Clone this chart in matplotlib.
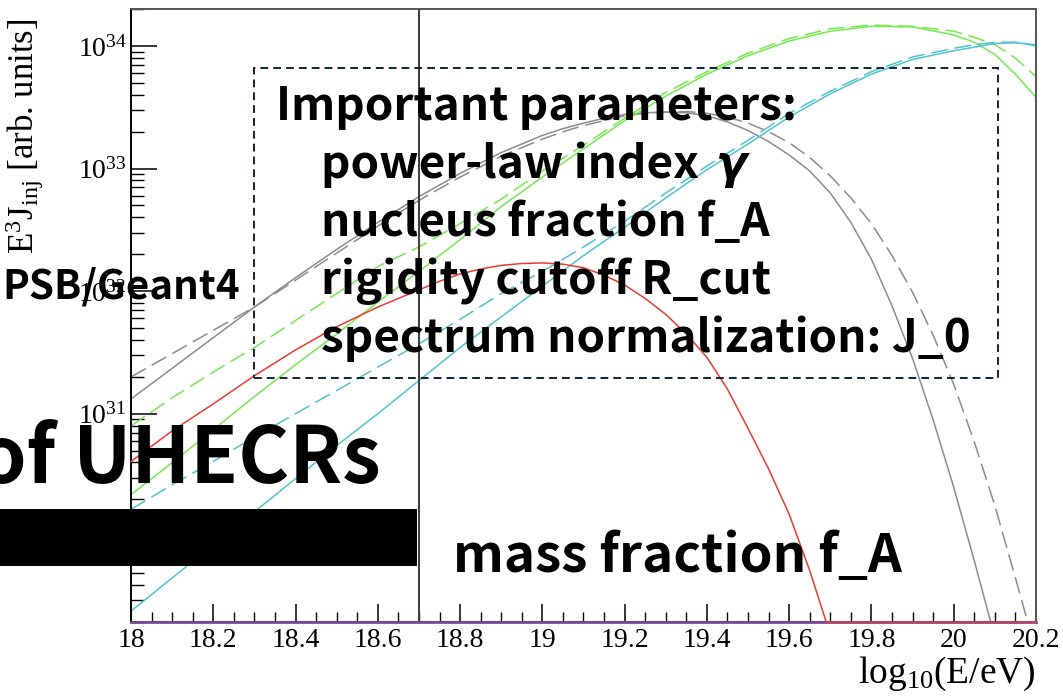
import numpy as np
import matplotlib
matplotlib.use('Agg')
import matplotlib.pyplot as plt
from matplotlib.ticker import LogLocator, NullFormatter, MultipleLocator, FuncFormatter
from matplotlib.patches import Rectangle

plt.rcParams['font.family'] = ['Liberation Serif']
plt.rcParams['mathtext.fontset'] = 'custom'
plt.rcParams['mathtext.rm'] = 'Liberation Serif'
plt.rcParams['mathtext.it'] = 'Liberation Serif:italic'
plt.rcParams['mathtext.default'] = 'regular'

W, H = 1063, 698

# ---------------- data (log10 of E^3 J_inj, arb. units) ----------------
gray_solid_x = [18.0, 18.1, 18.2, 18.3, 18.4, 18.5, 18.6, 18.7, 18.8, 18.9, 19.0, 19.05, 19.1, 19.15,
                19.2, 19.25, 19.3, 19.35, 19.4, 19.45, 19.5, 19.55, 19.6, 19.65, 19.7, 19.75, 19.8,
                19.85, 19.9, 19.95, 20.0, 20.05, 20.09]
gray_solid_log = [31.12, 31.37, 31.62, 31.87, 32.11, 32.34, 32.56, 32.77, 32.96, 33.13, 33.27, 33.325, 33.37,
                  33.41, 33.44, 33.455, 33.46, 33.455, 33.43, 33.38, 33.31, 33.22, 33.11, 32.98, 32.80,
                  32.56, 32.26, 31.88, 31.45, 30.95, 30.40, 29.80, 29.30]

gray_dashed_x = [18.0, 18.1, 18.2, 18.3, 18.4, 18.5, 18.6, 18.7, 18.8, 18.9, 19.0, 19.05, 19.1, 19.15,
                 19.2, 19.25, 19.3, 19.35, 19.4, 19.45, 19.5, 19.55, 19.6, 19.65, 19.7, 19.75, 19.8,
                 19.85, 19.9, 19.95, 20.0, 20.05, 20.1, 20.15, 20.18]
gray_dashed_log = [31.30, 31.49, 31.68, 31.87, 32.09, 32.31, 32.53, 32.74, 32.93, 33.10, 33.24, 33.30, 33.35,
                   33.39, 33.43, 33.45, 33.46, 33.465, 33.45, 33.42, 33.37, 33.30, 33.21, 33.09, 32.94,
                   32.76, 32.55, 32.29, 31.99, 31.64, 31.24, 30.77, 30.25, 29.66, 29.30]

green_x = [18.0, 18.1, 18.2, 18.3, 18.4, 18.5, 18.6, 18.7, 18.8, 18.9, 19.0, 19.1, 19.2, 19.3,
           19.4, 19.5, 19.6, 19.7, 19.8, 19.9, 20.0, 20.05, 20.1, 20.15, 20.2]
green_solid_log = [30.34, 30.60, 30.87, 31.14, 31.40, 31.65, 31.91, 32.16, 32.42, 32.69, 32.93, 33.16,
                   33.39, 33.59, 33.77, 33.92, 34.04, 34.12, 34.16, 34.155, 34.09, 34.03, 33.93, 33.77, 33.58]
green_dashed_log = [30.90, 31.13, 31.34, 31.54, 31.76, 31.98, 32.20, 32.36, 32.55, 32.75, 32.98, 33.19,
                    33.41, 33.62, 33.79, 33.94, 34.06, 34.14, 34.17, 34.16, 34.12, 34.07, 34.01, 33.90, 33.75]

cyan_x = [18.0, 18.1, 18.2, 18.3, 18.4, 18.5, 18.6, 18.7, 18.8, 18.9, 19.0, 19.1, 19.2, 19.3,
          19.4, 19.5, 19.6, 19.7, 19.8, 19.9, 20.0, 20.05, 20.1, 20.15, 20.2]
cyan_solid_log = [29.39, 29.66, 29.93, 30.20, 30.47, 30.74, 31.00, 31.27, 31.54, 31.79, 32.04, 32.29,
                  32.52, 32.76, 32.99, 33.20, 33.42, 33.61, 33.77, 33.89, 33.96, 33.99, 34.02, 34.025, 34.01]
cyan_dashed_log = [30.22, 30.42, 30.61, 30.81, 31.00, 31.19, 31.38, 31.57, 31.77, 31.98, 32.16, 32.36,
                   32.57, 32.80, 33.02, 33.23, 33.45, 33.63, 33.79, 33.91, 33.98, 34.01, 34.03, 34.03, 34.00]

red_x = [18.0, 18.1, 18.2, 18.3, 18.4, 18.5, 18.6, 18.7, 18.75, 18.8, 18.85, 18.9, 18.95, 19.0,
         19.05, 19.1, 19.15, 19.2, 19.25, 19.3, 19.35, 19.4, 19.45, 19.5, 19.55, 19.6, 19.65, 19.69, 20.2]
red_log = [30.61, 30.86, 31.08, 31.31, 31.52, 31.71, 31.87, 32.01, 32.08, 32.14, 32.18, 32.21, 32.225, 32.23,
           32.22, 32.19, 32.13, 32.05, 31.94, 31.81, 31.65, 31.46, 31.20, 30.88, 30.55, 30.18, 29.72,
           29.301, 29.301]

purple_x = [18.0, 20.2]
purple_log = [29.301, 29.301]

selected_energy = 18.7
x_range = (18.0, 20.2)
y_range = (2e29, 2e34)

# ---------------- figure ----------------
fig = plt.figure(figsize=(W / 100, H / 100), dpi=100)
ax = fig.add_axes([131 / W, 1 - 622 / H, (1036 - 131) / W, (622 - 9) / H])
ax.set_yscale('log')

lw = 1.1
dash = (11, 4.5)
C_GRAY = '#8c8c8c'
C_GREEN = '#74ea50'
C_CYAN = '#4fc4cf'
C_RED = '#ea3b32'
C_PURPLE = '#7a4a9a'


def p(x, logs):
    return np.asarray(x), 10.0 ** np.asarray(logs)


ax.plot(*p(gray_solid_x, gray_solid_log), color=C_GRAY, lw=lw)
ax.plot(*p(gray_dashed_x, gray_dashed_log), color=C_GRAY, lw=lw, dashes=dash)
ax.plot(*p(green_x, green_solid_log), color=C_GREEN, lw=lw)
ax.plot(*p(green_x, green_dashed_log), color=C_GREEN, lw=lw, dashes=dash)
ax.plot(*p(cyan_x, cyan_solid_log), color=C_CYAN, lw=lw)
ax.plot(*p(cyan_x, cyan_dashed_log), color=C_CYAN, lw=lw, dashes=dash)
ax.plot(*p(purple_x, purple_log), color=C_PURPLE, lw=2.0, zorder=3, clip_on=False)
ax.plot(*p(red_x, red_log), color=C_RED, lw=lw, zorder=3.1, clip_on=False)
ax.axvline(selected_energy, color='#3a3a3a', lw=1.4)

ax.set_xlim(*x_range)
ax.set_ylim(*y_range)

ax.xaxis.set_major_locator(MultipleLocator(0.2))
ax.xaxis.set_minor_locator(MultipleLocator(0.05))
ax.xaxis.set_major_formatter(FuncFormatter(lambda v, pos: '%g' % round(v, 2)))
ax.yaxis.set_major_locator(LogLocator(base=10))
ax.yaxis.set_minor_locator(LogLocator(base=10, subs=np.arange(2, 10)))
ax.yaxis.set_minor_formatter(NullFormatter())

ax.tick_params(axis='x', which='major', direction='in', length=13, width=1.1, labelsize=20, pad=4,
               top=False, bottom=True)
ax.tick_params(axis='x', which='minor', direction='in', length=7, width=1.0, top=False)
ax.tick_params(axis='y', which='major', direction='in', length=19, width=1.1, labelsize=20, pad=3,
               right=False)
ax.tick_params(axis='y', which='minor', direction='in', length=9, width=1.0, right=False)

for s in ax.spines.values():
    s.set_linewidth(1.4)
    s.set_color('black')
ax.spines['top'].set_color('#555555')
ax.spines['right'].set_color('#555555')

ax.set_xlabel(r'log$_{10}$(E/eV)', fontsize=27)
ax.xaxis.set_label_coords(1.0, -(655 - 622) / 613)
ax.xaxis.label.set_ha('right')
ax.set_ylabel(r'E$^{3}$J$_{inj}$ [arb. units]', fontsize=25)
ax.yaxis.set_label_coords((46 - 131) / 905, (622 - 136) / 613)

# ---------------- slide overlays ----------------
def fx(px):
    return px / W


def fy(py):
    return 1 - py / H


SANS = ['Noto Sans CJK JP', 'DejaVu Sans']

fig.add_artist(Rectangle((fx(254), fy(378)), (998 - 254) / W, (378 - 68) / H, transform=fig.transFigure,
                         fill=False, ec='#0f2433', lw=1.4, ls=(0, (4, 2.6)), zorder=5))
fig.add_artist(Rectangle((0, fy(566)), 417 / W, (566 - 509) / H, transform=fig.transFigure,
                         fc='black', ec='none', zorder=5))
for sy in (98, 117):
    fig.add_artist(Rectangle((fx(786), fy(sy + 3)), 6 / W, 6 / H, transform=fig.transFigure,
                             fc='black', ec='none', zorder=5))

fig.text(fx(240), fy(298), 'PSB/Geant4', ha='right', va='baseline', fontsize=29, fontweight='bold',
         family=SANS, zorder=6)
fig.text(fx(381), fy(483), 'of UHECRs', ha='right', va='baseline', fontsize=56, fontweight='bold',
         family=SANS, zorder=6)
fig.text(fx(453), fy(572), 'mass fraction f_A', ha='left', va='baseline', fontsize=38, fontweight='bold',
         family=SANS, zorder=6)

PSIZE = 33
fig.text(fx(276), fy(120), 'Important parameters:', ha='left', va='baseline', fontsize=PSIZE,
         fontweight='bold', family=SANS, zorder=6)
param_lines = ['power-law index', 'nucleus fraction f_A', 'rigidity cutoff R_cut',
               'spectrum normalization: J_0']
baselines = [178, 236, 294, 352]
ptexts = []
for t, b in zip(param_lines, baselines):
    ptexts.append(fig.text(fx(321), fy(b), t, ha='left', va='baseline', fontsize=PSIZE, fontweight='bold',
                           family=SANS, zorder=6))

fig.canvas.draw()
bb = ptexts[0].get_window_extent(fig.canvas.get_renderer())
fig.text((bb.x1 + 17) / W, fy(178), 'γ', ha='left', va='baseline', fontsize=PSIZE, fontweight='bold',
         style='italic', family=['DejaVu Sans'], zorder=6)

fig.savefig('out.png', dpi=100)
